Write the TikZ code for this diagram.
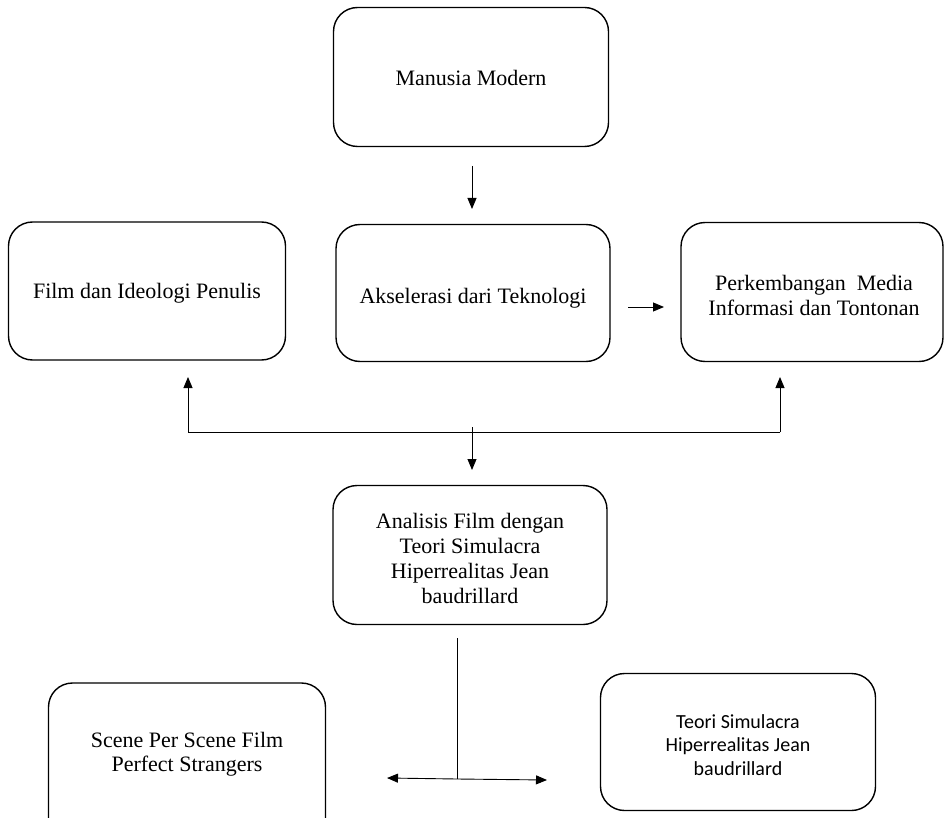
\documentclass[tikz,border=0pt]{standalone}
\usepackage{fontspec}
\setmainfont{Liberation Serif}
\newfontfamily\calib{Carlito}
\usetikzlibrary{arrows.meta}
\tikzset{
  box/.style={draw, line width=1.4pt, rounded corners=24pt, inner sep=0pt},
  txt/.style={align=center, font=\fontsize{22}{25}\selectfont, inner sep=0pt},
  stxt/.style={align=center, font=\calib\fontsize{20}{23.5}\selectfont, inner sep=0pt},
  conn/.style={line width=0.9pt},
  arr/.style={conn, -{Triangle[length=11pt,width=9pt]}}
}
\begin{document}
\begin{tikzpicture}[x=1pt,y=-1pt]
\useasboundingbox (0,0) rectangle (950,818);
% boxes
\node[box, minimum width=275pt, minimum height=139pt] (m) at (471,77) {};
\node[box, minimum width=277pt, minimum height=138pt] (f) at (147,291) {};
\node[box, minimum width=274pt, minimum height=137pt] (a) at (473,293) {};
\node[box, minimum width=262pt, minimum height=139pt] (p) at (812,292) {};
\node[box, minimum width=274pt, minimum height=139pt] (n) at (470,555) {};
\node[box, minimum width=277pt, minimum height=160pt] (s) at (187,763) {};
\node[box, minimum width=275pt, minimum height=137pt] (t) at (738,742) {};
% texts
\node[txt] (mt) at (471,78) {Manusia Modern};
\node[txt] (ft) at (147,293) {Film dan Ideologi Penulis};
\node[txt] (at) at (473,298) {Akselerasi dari Teknologi};
\node[txt] (pt) at (814,295) {Perkembangan\ \ Media\\Informasi dan Tontonan};
\node[txt] (nt) at (470,558) {Analisis Film dengan\\Teori Simulacra\\Hiperrealitas Jean\\baudrillard};
\node[txt, font=\fontsize{22}{24.5}\selectfont] (st) at (187,754) {Scene Per Scene Film\\Perfect Strangers};
\node[stxt] (tt) at (738,745) {Teori Simulacra\\Hiperrealitas Jean\\baudrillard};
% connector points
\coordinate (c1) at (472,166);
\coordinate (c2) at (472,209);
\coordinate (c3) at (628,307);
\coordinate (c4) at (664,307);
\coordinate (jl) at (188,432);
\coordinate (jr) at (780,432);
\coordinate (jm) at (472,427);
\coordinate (ul) at (188,377);
\coordinate (ur) at (780,377);
\coordinate (dn) at (472,470);
\coordinate (b1) at (457,638);
\coordinate (b2) at (457,779);
\coordinate (bl) at (387,778);
\coordinate (br) at (547,780);
% connectors
\draw[arr] (c1) -- (c2);
\draw[arr] (c3) -- (c4);
\draw[conn] (jl) -- (jr);
\draw[arr] (jl) -- (ul);
\draw[arr] (jr) -- (ur);
\draw[arr] (jm) -- (dn);
\draw[conn] (b1) -- (b2);
\draw[arr] (b2) -- (bl);
\draw[arr] (b2) -- (br);
\end{tikzpicture}
\end{document}
